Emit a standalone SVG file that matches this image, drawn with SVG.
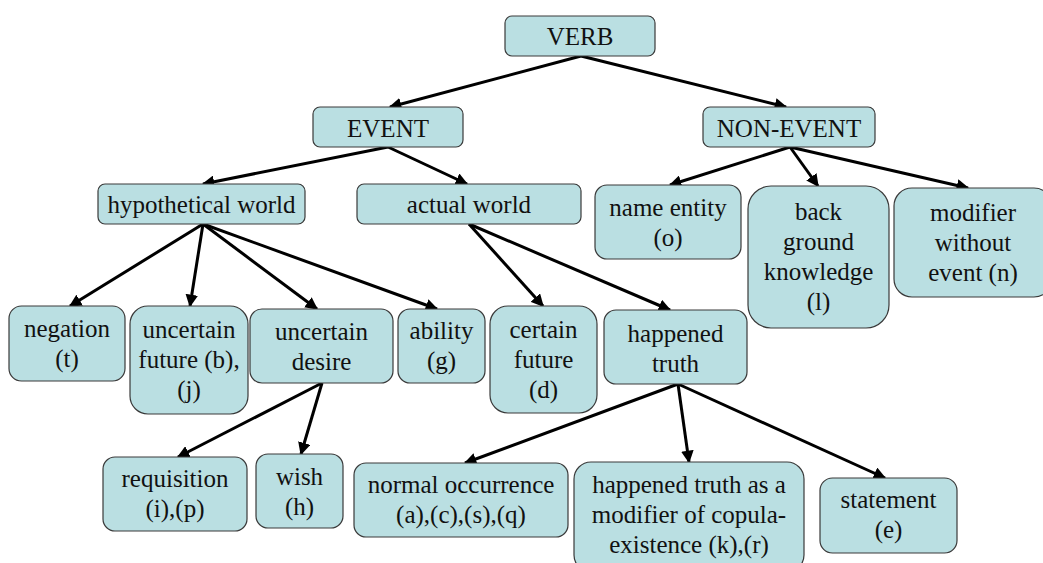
<svg xmlns="http://www.w3.org/2000/svg" width="1043" height="563" viewBox="0 0 1043 563">
  <style>
    .box { fill: #badfe2; stroke: #3a3a3a; stroke-width: 1.2; }
    .lbl { font-family: 'Liberation Serif', 'DejaVu Serif', serif; font-size: 25px; fill: #111; text-anchor: middle; }
    .edge { stroke: #000; stroke-width: 3; fill: none; marker-end: url(#arrow); }
  </style>
  <defs>
    <marker id="arrow" viewBox="0 0 10 10" refX="9" refY="5" markerWidth="4.2" markerHeight="4.2" orient="auto" markerUnits="strokeWidth">
      <path d="M0,0 L10,5 L0,10 Z" fill="#000"/>
    </marker>
  </defs>
  <rect width="1043" height="563" fill="#fff"/>

  <!-- connectors -->
  <g id="connectors">
    <line class="edge" x1="581" y1="56" x2="390" y2="107"/>
    <line class="edge" x1="581" y1="56" x2="786" y2="107"/>
    <line class="edge" x1="388" y1="147" x2="203" y2="184"/>
    <line class="edge" x1="388" y1="147" x2="467" y2="184"/>
    <line class="edge" x1="790" y1="147" x2="670" y2="185"/>
    <line class="edge" x1="790" y1="147" x2="818" y2="186"/>
    <line class="edge" x1="790" y1="147" x2="968" y2="188"/>
    <line class="edge" x1="203" y1="224" x2="70" y2="306"/>
    <line class="edge" x1="203" y1="224" x2="190" y2="306"/>
    <line class="edge" x1="203" y1="224" x2="317" y2="309"/>
    <line class="edge" x1="203" y1="224" x2="437" y2="309"/>
    <line class="edge" x1="469" y1="224" x2="543" y2="306"/>
    <line class="edge" x1="469" y1="224" x2="670" y2="310"/>
    <line class="edge" x1="322" y1="383" x2="178" y2="457"/>
    <line class="edge" x1="322" y1="383" x2="301" y2="454"/>
    <line class="edge" x1="678" y1="384" x2="465" y2="463"/>
    <line class="edge" x1="678" y1="384" x2="689" y2="462"/>
    <line class="edge" x1="678" y1="384" x2="885" y2="478"/>
  </g>

  <g id="verb">
    <rect class="box" x="505" y="16" width="150" height="40" rx="7"/>
    <text class="lbl" x="580" y="45">VERB</text>
  </g>
  <g id="event">
    <rect class="box" x="313" y="107" width="150" height="40" rx="7"/>
    <text class="lbl" x="388" y="137">EVENT</text>
  </g>
  <g id="non-event">
    <rect class="box" x="703" y="107" width="172" height="40" rx="7"/>
    <text class="lbl" x="789" y="137">NON-EVENT</text>
  </g>
  <g id="hypothetical-world">
    <rect class="box" x="98" y="184" width="207" height="40" rx="7"/>
    <text class="lbl" x="201.5" y="213">hypothetical world</text>
  </g>
  <g id="actual-world">
    <rect class="box" x="357" y="184" width="224" height="40" rx="7"/>
    <text class="lbl" x="469" y="213">actual world</text>
  </g>
  <g id="name-entity">
    <rect class="box" x="595" y="185" width="146" height="74" rx="12"/>
    <text class="lbl" x="668" y="216">name entity</text>
    <text class="lbl" x="668" y="246">(o)</text>
  </g>
  <g id="background-knowledge">
    <rect class="box" x="748" y="186" width="141" height="142" rx="23"/>
    <text class="lbl" x="818.5" y="220">back</text>
    <text class="lbl" x="818.5" y="250">ground</text>
    <text class="lbl" x="818.5" y="280">knowledge</text>
    <text class="lbl" x="818.5" y="310">(l)</text>
  </g>
  <g id="modifier-without-event">
    <rect class="box" x="894" y="188" width="158" height="109" rx="18"/>
    <text class="lbl" x="973" y="221">modifier</text>
    <text class="lbl" x="973" y="251">without</text>
    <text class="lbl" x="973" y="281">event (n)</text>
  </g>
  <g id="negation">
    <rect class="box" x="9" y="306" width="116" height="75" rx="12.5"/>
    <text class="lbl" x="67" y="337">negation</text>
    <text class="lbl" x="67" y="367">(t)</text>
  </g>
  <g id="uncertain-future">
    <rect class="box" x="130" y="306" width="118" height="108" rx="18"/>
    <text class="lbl" x="189" y="338">uncertain</text>
    <text class="lbl" x="189" y="368">future (b),</text>
    <text class="lbl" x="189" y="398">(j)</text>
  </g>
  <g id="uncertain-desire">
    <rect class="box" x="250" y="309" width="143" height="74" rx="12"/>
    <text class="lbl" x="321.5" y="340">uncertain</text>
    <text class="lbl" x="321.5" y="370">desire</text>
  </g>
  <g id="ability">
    <rect class="box" x="398" y="309" width="87" height="74" rx="12"/>
    <text class="lbl" x="441.5" y="339">ability</text>
    <text class="lbl" x="441.5" y="369">(g)</text>
  </g>
  <g id="certain-future">
    <rect class="box" x="490" y="306" width="107" height="107" rx="18"/>
    <text class="lbl" x="543.5" y="338">certain</text>
    <text class="lbl" x="543.5" y="368">future</text>
    <text class="lbl" x="543.5" y="398">(d)</text>
  </g>
  <g id="happened-truth">
    <rect class="box" x="604" y="310" width="143" height="74" rx="12"/>
    <text class="lbl" x="675.5" y="342">happened</text>
    <text class="lbl" x="675.5" y="372">truth</text>
  </g>
  <g id="requisition">
    <rect class="box" x="103" y="457" width="144" height="74" rx="12"/>
    <text class="lbl" x="175" y="487">requisition</text>
    <text class="lbl" x="175" y="517">(i),(p)</text>
  </g>
  <g id="wish">
    <rect class="box" x="256" y="454" width="87" height="74" rx="12"/>
    <text class="lbl" x="299.5" y="485">wish</text>
    <text class="lbl" x="299.5" y="515">(h)</text>
  </g>
  <g id="normal-occurrence">
    <rect class="box" x="354" y="463" width="214" height="74" rx="12"/>
    <text class="lbl" x="461" y="493">normal occurrence</text>
    <text class="lbl" x="461" y="523">(a),(c),(s),(q)</text>
  </g>
  <g id="copula-modifier">
    <rect class="box" x="574" y="462" width="230" height="110" rx="17"/>
    <text class="lbl" x="689" y="493">happened truth as a</text>
    <text class="lbl" x="689" y="523">modifier of copula-</text>
    <text class="lbl" x="689" y="553">existence (k),(r)</text>
  </g>
  <g id="statement">
    <rect class="box" x="820" y="478" width="137" height="75" rx="12.5"/>
    <text class="lbl" x="888.5" y="508">statement</text>
    <text class="lbl" x="888.5" y="538">(e)</text>
  </g>
</svg>
